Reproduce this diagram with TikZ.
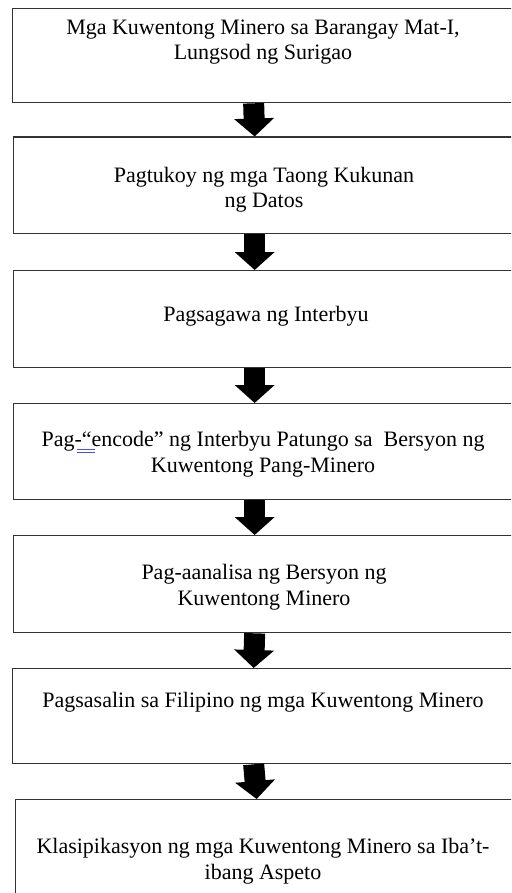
\documentclass[tikz,border=0pt]{standalone}
\usepackage{fontspec}
\setmainfont{Liberation Serif}
\usepackage{xcolor}
\usetikzlibrary{arrows.meta}

\begin{document}
\begin{tikzpicture}[x=1pt, y=-1pt,
    stepbox/.style={draw=black!80, line width=1.3pt, minimum width=504pt, anchor=north west, inner sep=0pt},
    steptext/.style={align=center, anchor=base, font=\fontsize{22}{25.5}\selectfont, inner sep=0pt},
    bigarrow/.style={line width=21pt, -{Triangle[length=18pt, width=39pt]}}]
                \clip (0,0) rectangle (511,893);
                \fill[white] (0,0) rectangle (511,893);

                % Boxes
                \node[stepbox, minimum height=94pt] (b1) at (12, 8) {};
                \node[stepbox, minimum height=96.5pt] (b2) at (13, 136.5) {};
                \node[stepbox, minimum height=97pt] (b3) at (13, 270) {};
                \node[stepbox, minimum height=96pt] (b4) at (13, 403) {};
                \node[stepbox, minimum height=97pt] (b5) at (13, 535) {};
                \node[stepbox, minimum height=95pt] (b6) at (12, 668) {};
                \node[stepbox, minimum height=110pt] (b7) at (15, 799) {};

                % Texts (base = last line)
                \node[steptext] (t1) at (263, 60) {Mga Kuwentong Minero sa Barangay Mat-I,\\Lungsod ng Surigao};
                \node[steptext] (t2) at (264, 208) {Pagtukoy ng mga Taong Kukunan\\ng Datos};
                \node[steptext] (t3) at (266, 321) {Pagsagawa ng Interbyu};
                \node[steptext] (t4) at (263, 472) {Pag-“encode” ng Interbyu Patungo sa~ Bersyon ng\\Kuwentong Pang-Minero};
                \node[steptext] (t5) at (264, 605) {Pag-aanalisa ng Bersyon ng\\Kuwentong Minero};
                \node[steptext] (t6) at (263, 707) {Pagsasalin sa Filipino ng mga Kuwentong Minero};
                \node[steptext] (t7) at (263, 879) {Klasipikasyon ng mga Kuwentong Minero sa Iba’t-\\ibang Aspeto};

                % Mark under the quote
                \draw[blue!70, line width=0.8pt] (77, 449.5) -- (95, 449.5);
                \draw[blue!70, line width=0.8pt] (77, 452) -- (95, 452);

                % Arrows
                \foreach \a/\b in {b1/b2, b2/b3, b3/b4, b4/b5, b5/b6, b6/b7}
                    \draw[bigarrow] ([xshift=-11pt]\a.south) -- ([xshift=-11pt]\b.north);
            \end{tikzpicture}
\end{document}
